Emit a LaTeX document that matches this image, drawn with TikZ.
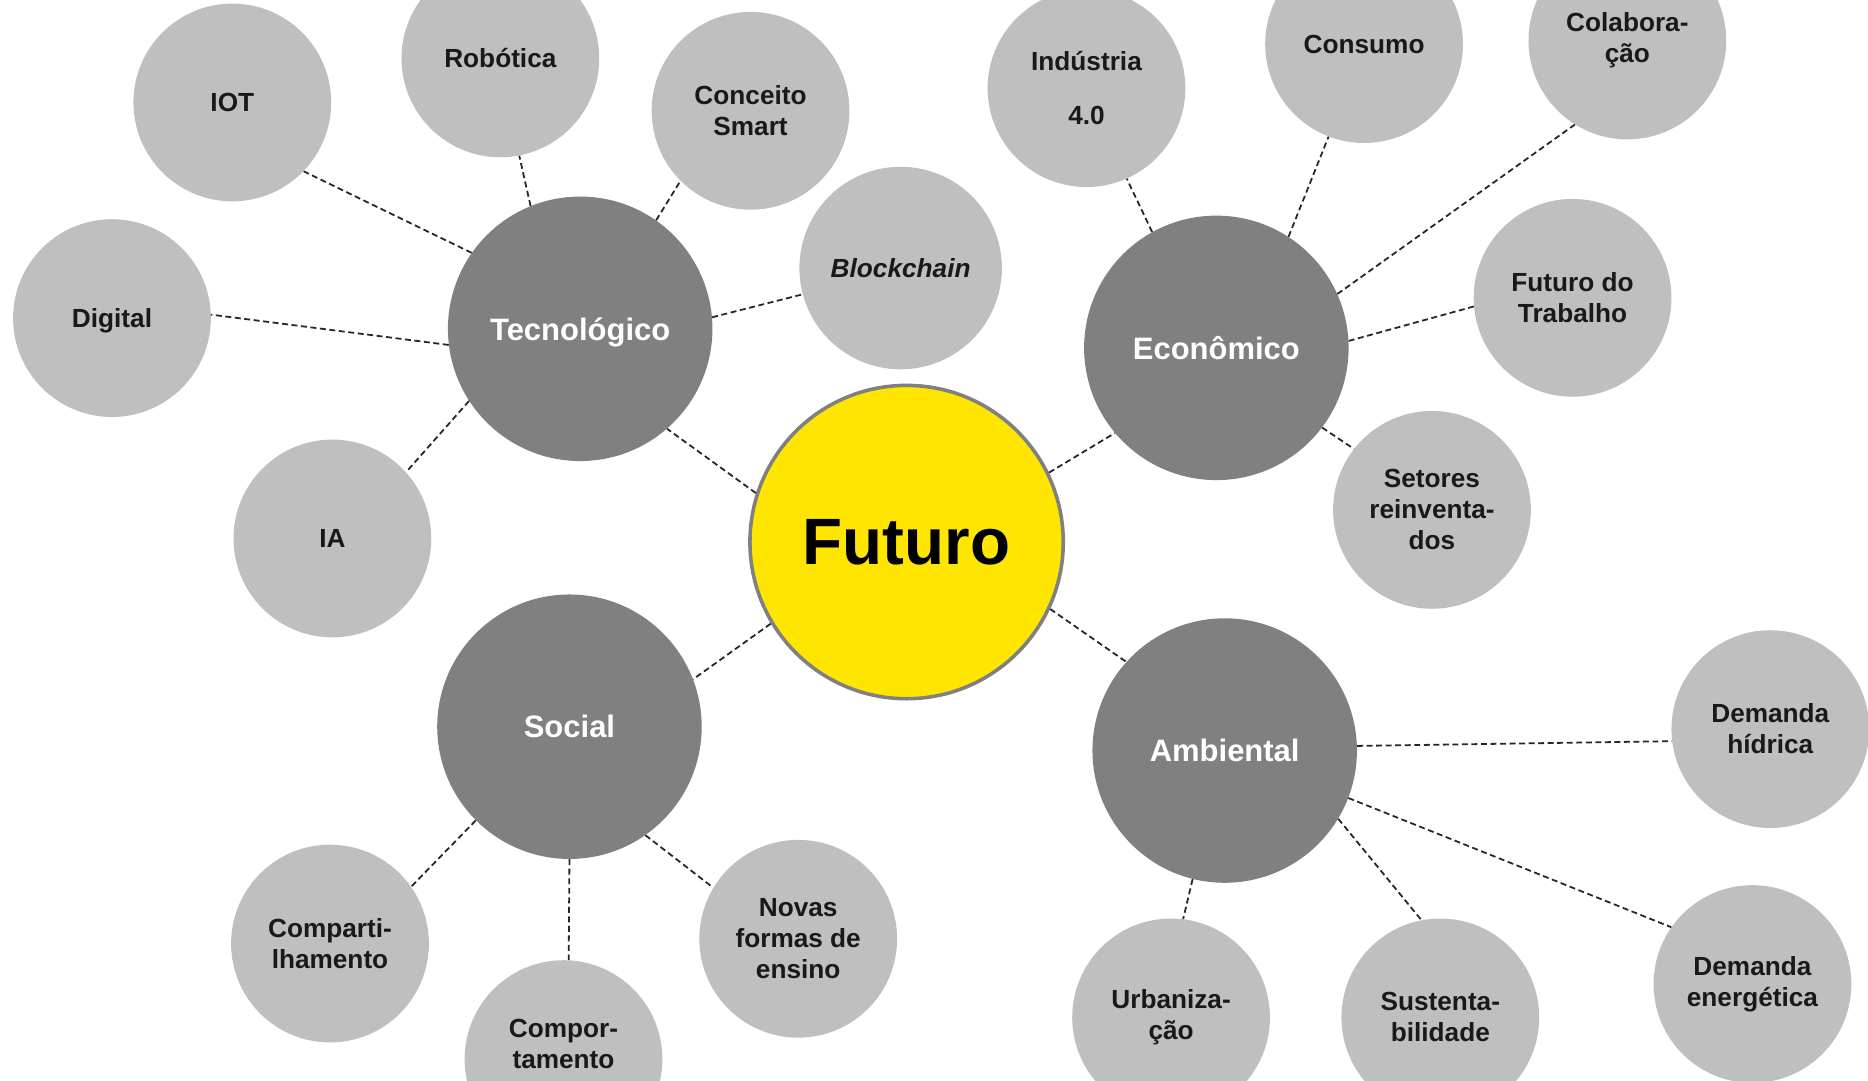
\documentclass[tikz,border=0pt]{standalone}
\usepackage{fontspec}
\setmainfont{Liberation Sans}
\definecolor{futyellow}{HTML}{FFE600}
\definecolor{areagrey}{HTML}{808080}
\definecolor{topicgrey}{HTML}{BFBFBF}
\definecolor{linkgrey}{HTML}{262626}
\tikzset{
  hub/.style={circle, fill=futyellow, draw=areagrey, line width=3pt,
    minimum size=263pt, inner sep=0pt, font=\fontsize{55}{60}\selectfont\bfseries},
  area/.style={circle, fill=areagrey, minimum size=222pt, inner sep=0pt,
    text=white, font=\fontsize{26}{30}\selectfont\bfseries},
  topic/.style={circle, fill=topicgrey, minimum size=166pt, inner sep=0pt,
    align=center, text=black!90, font=\fontsize{22}{26}\selectfont\bfseries},
  link/.style={draw=linkgrey, line width=1.5pt, dash pattern=on 5pt off 3pt}
}
\begin{document}
\begin{tikzpicture}[x=1pt,y=-1pt]
      \useasboundingbox (0,0) rectangle (1568,907);
      \clip (0,0) rectangle (1568,907);
      \draw
        (761,455) node[hub] (fut){Futuro}
        (487,276) node[area, text depth=0pt] (tec){Tecnológico}
        (1021,292) node[area] (eco){Econômico}
        (478,610) node[area] (soc){Social}
        (1028,630) node[area] (amb){Ambiental}
        % tecnologico
        (195,86) node[topic] (iot){IOT}
        (420,49) node[topic] (rob){Robótica}
        (630,93) node[topic] (sma){Conceito\\Smart}
        (756,225) node[topic, minimum size=170pt] (blo){\itshape Blockchain}
        (94,267) node[topic, text depth=0pt] (dig){Digital}
        (279,452) node[topic] (ia){IA}
        % economico
        (912,74) node[topic] (ind){Indústria\\[19pt]4.0}
        (1145,37) node[topic] (con){Consumo}
        (1366,34) node[topic] (col){Colabora-\\ção}
        (1320,250) node[topic] (tra){Futuro do\\Trabalho}
        (1202,428) node[topic] (set){Setores\\reinventa-\\dos}
        % ambiental
        (1486,612) node[topic] (hid){Demanda\\hídrica}
        (1471,826) node[topic] (ene){Demanda\\energética}
        (1209,854) node[topic] (sus){Sustenta-\\bilidade}
        (983,854) node[topic] (urb){Urbaniza-\\ção}
        % social
        (670,788) node[topic] (ens){Novas\\formas de\\ensino}
        (473,889) node[topic] (cmp){Compor-\\tamento\\\mbox{}}
        (277,792) node[topic] (com){Comparti-\\lhamento};
      \begin{scope}[link]
        \draw (fut.162) to (tec.-49);
        \draw (fut.26) to (eco.220);
        \draw (fut.211) to (soc.21);
        \draw (fut.-25) to (amb.138);
        \draw (tec.145) to (iot.-44);
        \draw (tec.112) to (rob.-79);
        \draw (tec.55) to (sma.-135);
        \draw (tec.5) to (blo.195);
        \draw (tec.187) to (dig.2);
        \draw (tec.213) to (ia.42);
        \draw (eco.119) to (ind.-66);
        \draw (eco.57) to (con.-111);
        \draw (eco.24) to (col.-122);
        \draw (eco.3) to (tra.185);
        \draw (eco.-37) to (set.142);
        \draw (amb.2) to (hid.187);
        \draw (amb.-21) to (ene.145);
        \draw (amb.-31) to (sus.101);
        \draw (amb.-104) to (urb.83);
        \draw (soc.-55) to (ens.149);
        \draw (soc.-90) to (cmp.87);
        \draw (soc.225) to (com.35);
      \end{scope}
    \end{tikzpicture}
\end{document}
